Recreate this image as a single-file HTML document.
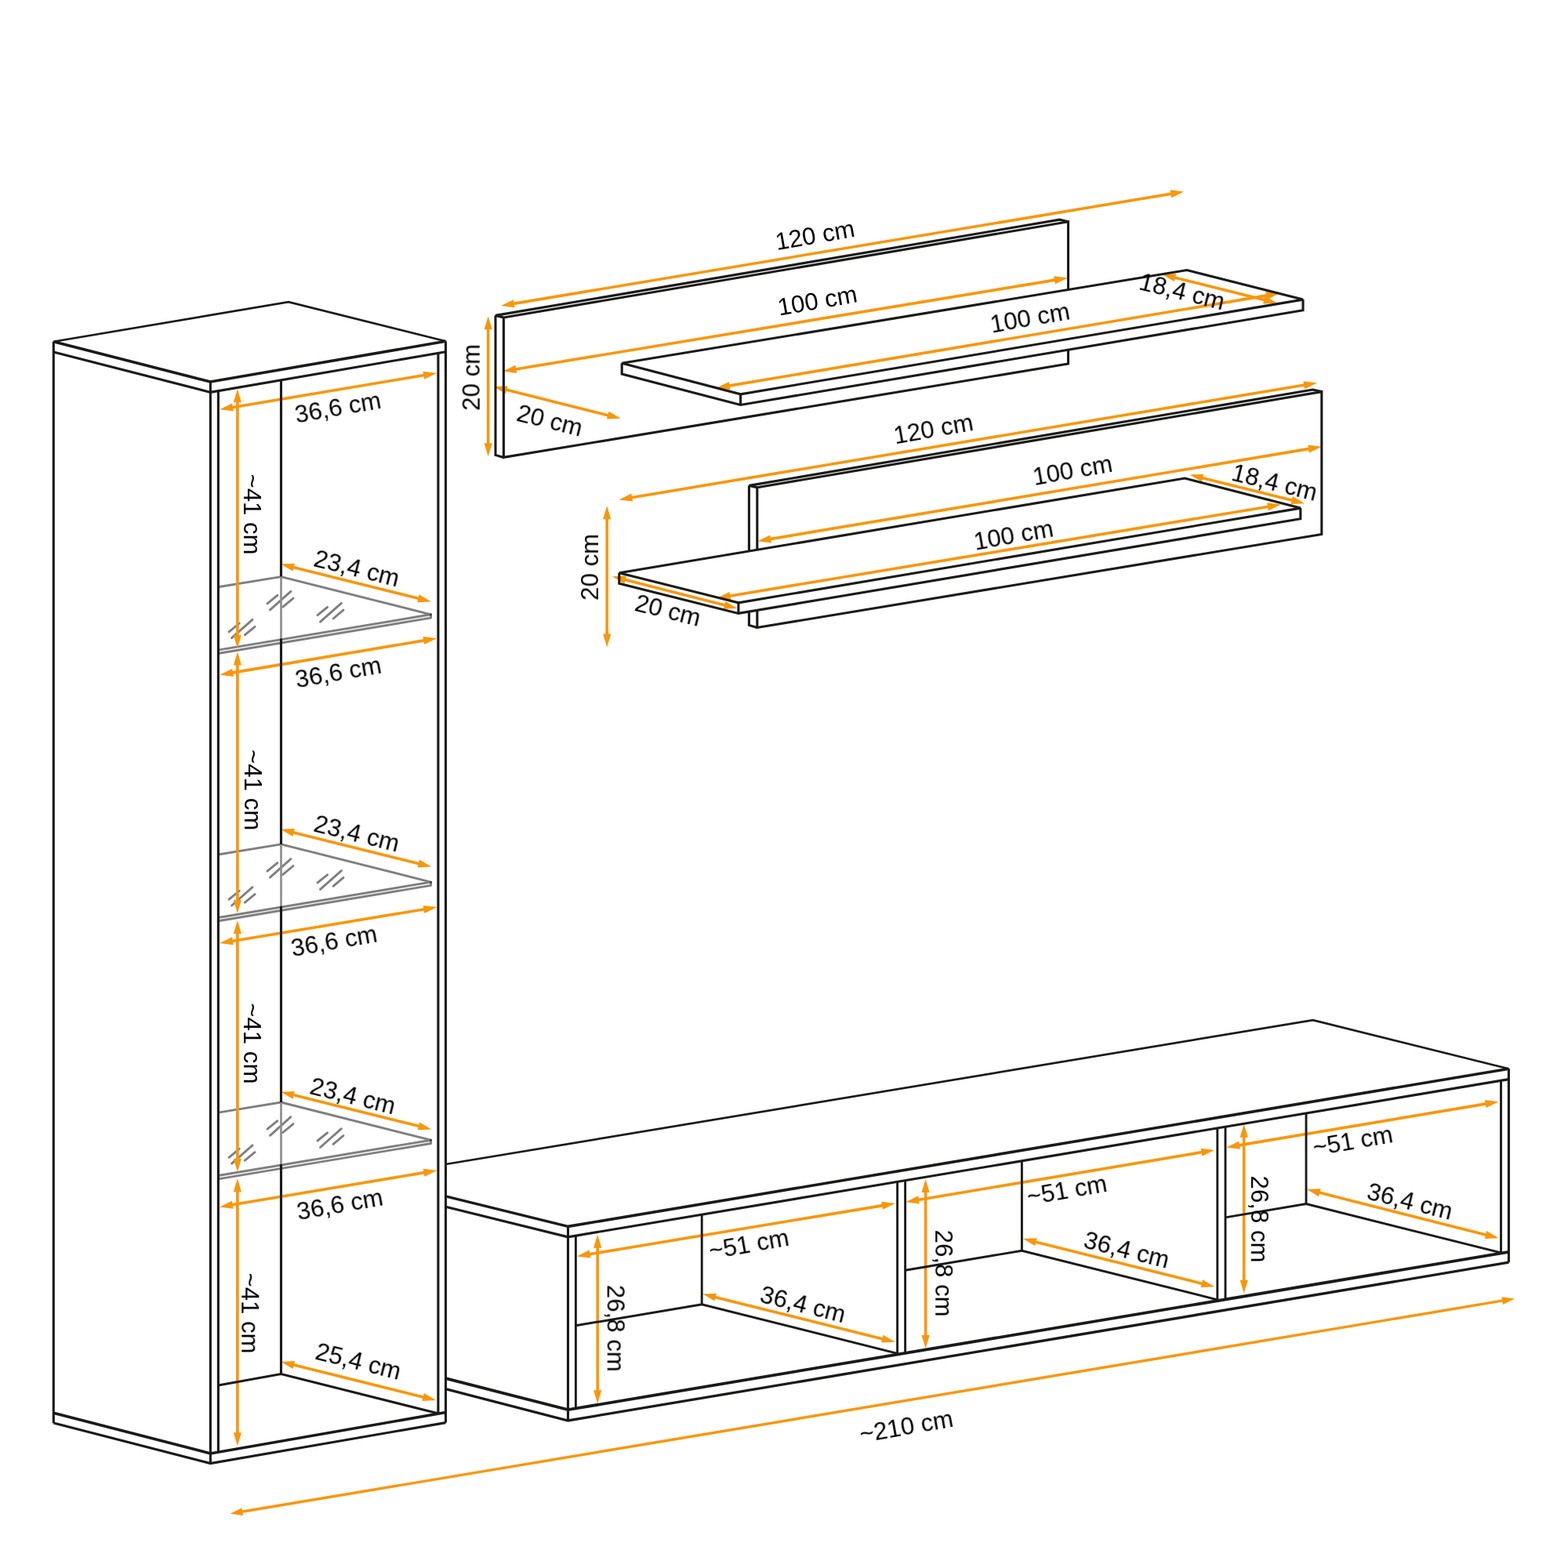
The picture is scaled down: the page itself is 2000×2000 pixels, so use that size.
<!DOCTYPE html>
<html lang="de">
<head>
<meta charset="utf-8">
<title>Wohnwand Maße</title>
<style>
html,body{margin:0;padding:0;background:#fff;}
body{width:2000px;height:2000px;overflow:hidden;}
svg{display:block;}
svg text{font-family:"Liberation Sans",sans-serif;fill:#000;}
</style>
</head>
<body>
<svg width="2000" height="2000" viewBox="0 0 2000 2000">
<rect width="2000" height="2000" fill="#ffffff"/>
<g id="glass">
<path d="M279.7 748.5 L358.5 735.6 L549.6 783.8 L279.7 828.9" fill="none" stroke="#000" stroke-opacity="0.5" stroke-width="2.9" stroke-linecap="round" stroke-linejoin="round"/>
<path d="M549.6 783.8 L549.6 788.1 L279.7 833.2" fill="none" stroke="#000" stroke-opacity="0.5" stroke-width="2.9" stroke-linecap="round" stroke-linejoin="round"/>
<path d="M405 784.6 L417.6 774.5" fill="none" stroke="#000" stroke-opacity="0.5" stroke-width="2.9" stroke-linecap="round" stroke-linejoin="round"/>
<path d="M408.5 793.1 L435.4 769.3" fill="none" stroke="#000" stroke-opacity="0.5" stroke-width="2.9" stroke-linecap="round" stroke-linejoin="round"/>
<path d="M425.1 789 L438 778.1" fill="none" stroke="#000" stroke-opacity="0.5" stroke-width="2.9" stroke-linecap="round" stroke-linejoin="round"/>
<path d="M341 769.8 L353.9 759.3" fill="none" stroke="#000" stroke-opacity="0.5" stroke-width="2.9" stroke-linecap="round" stroke-linejoin="round"/>
<path d="M344.5 777.9 L370.9 754.3" fill="none" stroke="#000" stroke-opacity="0.5" stroke-width="2.9" stroke-linecap="round" stroke-linejoin="round"/>
<path d="M360.8 774.1 L374 763.2" fill="none" stroke="#000" stroke-opacity="0.5" stroke-width="2.9" stroke-linecap="round" stroke-linejoin="round"/>
<path d="M292.1 805.9 L305.3 795" fill="none" stroke="#000" stroke-opacity="0.5" stroke-width="2.9" stroke-linecap="round" stroke-linejoin="round"/>
<path d="M295.6 813.7 L322 790.4" fill="none" stroke="#000" stroke-opacity="0.5" stroke-width="2.9" stroke-linecap="round" stroke-linejoin="round"/>
<path d="M312.3 809.8 L325.1 799.3" fill="none" stroke="#000" stroke-opacity="0.5" stroke-width="2.9" stroke-linecap="round" stroke-linejoin="round"/>
<path d="M279.7 1089.8 L358.5 1076.9 L549.6 1125.1 L279.7 1170.2" fill="none" stroke="#000" stroke-opacity="0.5" stroke-width="2.9" stroke-linecap="round" stroke-linejoin="round"/>
<path d="M549.6 1125.1 L549.6 1129.4 L279.7 1174.5" fill="none" stroke="#000" stroke-opacity="0.5" stroke-width="2.9" stroke-linecap="round" stroke-linejoin="round"/>
<path d="M405 1125.9 L417.6 1115.8" fill="none" stroke="#000" stroke-opacity="0.5" stroke-width="2.9" stroke-linecap="round" stroke-linejoin="round"/>
<path d="M408.5 1134.4 L435.4 1110.6" fill="none" stroke="#000" stroke-opacity="0.5" stroke-width="2.9" stroke-linecap="round" stroke-linejoin="round"/>
<path d="M425.1 1130.3 L438 1119.4" fill="none" stroke="#000" stroke-opacity="0.5" stroke-width="2.9" stroke-linecap="round" stroke-linejoin="round"/>
<path d="M341 1111.1 L353.9 1100.6" fill="none" stroke="#000" stroke-opacity="0.5" stroke-width="2.9" stroke-linecap="round" stroke-linejoin="round"/>
<path d="M344.5 1119.2 L370.9 1095.6" fill="none" stroke="#000" stroke-opacity="0.5" stroke-width="2.9" stroke-linecap="round" stroke-linejoin="round"/>
<path d="M360.8 1115.4 L374 1104.5" fill="none" stroke="#000" stroke-opacity="0.5" stroke-width="2.9" stroke-linecap="round" stroke-linejoin="round"/>
<path d="M292.1 1147.2 L305.3 1136.3" fill="none" stroke="#000" stroke-opacity="0.5" stroke-width="2.9" stroke-linecap="round" stroke-linejoin="round"/>
<path d="M295.6 1155 L322 1131.7" fill="none" stroke="#000" stroke-opacity="0.5" stroke-width="2.9" stroke-linecap="round" stroke-linejoin="round"/>
<path d="M312.3 1151.1 L325.1 1140.6" fill="none" stroke="#000" stroke-opacity="0.5" stroke-width="2.9" stroke-linecap="round" stroke-linejoin="round"/>
<path d="M279.7 1418.9 L358.5 1406 L549.6 1454.2 L279.7 1499.3" fill="none" stroke="#000" stroke-opacity="0.5" stroke-width="2.9" stroke-linecap="round" stroke-linejoin="round"/>
<path d="M549.6 1454.2 L549.6 1458.5 L279.7 1503.6" fill="none" stroke="#000" stroke-opacity="0.5" stroke-width="2.9" stroke-linecap="round" stroke-linejoin="round"/>
<path d="M405 1455 L417.6 1444.9" fill="none" stroke="#000" stroke-opacity="0.5" stroke-width="2.9" stroke-linecap="round" stroke-linejoin="round"/>
<path d="M408.5 1463.5 L435.4 1439.7" fill="none" stroke="#000" stroke-opacity="0.5" stroke-width="2.9" stroke-linecap="round" stroke-linejoin="round"/>
<path d="M425.1 1459.4 L438 1448.5" fill="none" stroke="#000" stroke-opacity="0.5" stroke-width="2.9" stroke-linecap="round" stroke-linejoin="round"/>
<path d="M341 1440.2 L353.9 1429.7" fill="none" stroke="#000" stroke-opacity="0.5" stroke-width="2.9" stroke-linecap="round" stroke-linejoin="round"/>
<path d="M344.5 1448.3 L370.9 1424.7" fill="none" stroke="#000" stroke-opacity="0.5" stroke-width="2.9" stroke-linecap="round" stroke-linejoin="round"/>
<path d="M360.8 1444.5 L374 1433.6" fill="none" stroke="#000" stroke-opacity="0.5" stroke-width="2.9" stroke-linecap="round" stroke-linejoin="round"/>
<path d="M292.1 1476.3 L305.3 1465.4" fill="none" stroke="#000" stroke-opacity="0.5" stroke-width="2.9" stroke-linecap="round" stroke-linejoin="round"/>
<path d="M295.6 1484.1 L322 1460.8" fill="none" stroke="#000" stroke-opacity="0.5" stroke-width="2.9" stroke-linecap="round" stroke-linejoin="round"/>
<path d="M312.3 1480.2 L325.1 1469.7" fill="none" stroke="#000" stroke-opacity="0.5" stroke-width="2.9" stroke-linecap="round" stroke-linejoin="round"/>
</g>
<g id="arrows">
<path d="M302.9 512.3 L302.9 811" stroke="#fa9609" stroke-width="3.6" fill="none"/>
<path d="M302.9 496.3 L297.8 513.3 L308 513.3 Z" fill="#fa9609"/>
<path d="M302.9 827 L297.8 810 L308 810 Z" fill="#fa9609"/>
<path d="M302.9 847.6 L302.9 1149" stroke="#fa9609" stroke-width="3.6" fill="none"/>
<path d="M302.9 831.6 L297.8 848.6 L308 848.6 Z" fill="#fa9609"/>
<path d="M302.9 1165 L297.8 1148 L308 1148 Z" fill="#fa9609"/>
<path d="M302.9 1189.9 L302.9 1478.8" stroke="#fa9609" stroke-width="3.6" fill="none"/>
<path d="M302.9 1173.9 L297.8 1190.9 L308 1190.9 Z" fill="#fa9609"/>
<path d="M302.9 1494.8 L297.8 1477.8 L308 1477.8 Z" fill="#fa9609"/>
<path d="M302.9 1519.2 L302.9 1828.2" stroke="#fa9609" stroke-width="3.6" fill="none"/>
<path d="M302.9 1503.2 L297.8 1520.2 L308 1520.2 Z" fill="#fa9609"/>
<path d="M302.9 1844.2 L297.8 1827.2 L308 1827.2 Z" fill="#fa9609"/>
<path d="M296.1 519.7 L541.3 478.5" stroke="#fa9609" stroke-width="3.6" fill="none"/>
<path d="M280.3 522.3 L297.9 524.5 L296.2 514.5 Z" fill="#fa9609"/>
<path d="M557.1 475.9 L541.2 483.7 L539.5 473.7 Z" fill="#fa9609"/>
<path d="M296.1 858.1 L541.3 816.9" stroke="#fa9609" stroke-width="3.6" fill="none"/>
<path d="M280.3 860.8 L297.9 863 L296.2 852.9 Z" fill="#fa9609"/>
<path d="M557.1 814.2 L541.2 822.1 L539.5 812 Z" fill="#fa9609"/>
<path d="M295.9 1200.5 L541.5 1159.7" stroke="#fa9609" stroke-width="3.6" fill="none"/>
<path d="M280.1 1203.1 L297.7 1205.3 L296 1195.3 Z" fill="#fa9609"/>
<path d="M557.3 1157.1 L541.4 1164.9 L539.7 1154.9 Z" fill="#fa9609"/>
<path d="M295.9 1536.8 L541.5 1495.6" stroke="#fa9609" stroke-width="3.6" fill="none"/>
<path d="M280.1 1539.5 L297.7 1541.7 L296 1531.7 Z" fill="#fa9609"/>
<path d="M557.3 1492.9 L541.4 1500.7 L539.7 1490.7 Z" fill="#fa9609"/>
<path d="M373.8 723.4 L534.4 763.5" stroke="#fa9609" stroke-width="3.6" fill="none"/>
<path d="M358.3 719.5 L373.6 728.6 L376 718.7 Z" fill="#fa9609"/>
<path d="M549.9 767.4 L532.2 768.2 L534.6 758.3 Z" fill="#fa9609"/>
<path d="M373.7 1061.7 L534.8 1101.7" stroke="#fa9609" stroke-width="3.6" fill="none"/>
<path d="M358.2 1057.8 L373.5 1066.9 L375.9 1057 Z" fill="#fa9609"/>
<path d="M550.3 1105.6 L532.6 1106.4 L535 1096.5 Z" fill="#fa9609"/>
<path d="M373.7 1396.6 L534.8 1436.6" stroke="#fa9609" stroke-width="3.6" fill="none"/>
<path d="M358.2 1392.8 L373.5 1401.8 L375.9 1391.9 Z" fill="#fa9609"/>
<path d="M550.3 1440.4 L532.6 1441.3 L535 1431.4 Z" fill="#fa9609"/>
<path d="M373.9 1740.8 L540.6 1782.2" stroke="#fa9609" stroke-width="3.6" fill="none"/>
<path d="M358.4 1737 L373.7 1746 L376.1 1736.1 Z" fill="#fa9609"/>
<path d="M556.1 1786 L538.4 1786.9 L540.8 1777 Z" fill="#fa9609"/>
<path d="M751.6 1599.8 L1126 1537.6" stroke="#fa9609" stroke-width="3.6" fill="none"/>
<path d="M735.8 1602.4 L753.4 1604.6 L751.7 1594.6 Z" fill="#fa9609"/>
<path d="M1141.8 1535 L1125.9 1542.8 L1124.2 1532.8 Z" fill="#fa9609"/>
<path d="M1171.1 1530.5 L1533.4 1469.6" stroke="#fa9609" stroke-width="3.6" fill="none"/>
<path d="M1155.3 1533.2 L1172.9 1535.4 L1171.2 1525.3 Z" fill="#fa9609"/>
<path d="M1549.2 1466.9 L1533.3 1474.8 L1531.6 1464.7 Z" fill="#fa9609"/>
<path d="M1580 1460.9 L1895.7 1407.9" stroke="#fa9609" stroke-width="3.6" fill="none"/>
<path d="M1564.2 1463.5 L1581.8 1465.7 L1580.1 1455.7 Z" fill="#fa9609"/>
<path d="M1911.5 1405.3 L1895.6 1413.1 L1893.9 1403.1 Z" fill="#fa9609"/>
<path d="M762.2 1590.7 L762.2 1774.3" stroke="#fa9609" stroke-width="3.6" fill="none"/>
<path d="M762.2 1574.7 L757.1 1591.7 L767.3 1591.7 Z" fill="#fa9609"/>
<path d="M762.2 1790.3 L757.1 1773.3 L767.3 1773.3 Z" fill="#fa9609"/>
<path d="M1180.6 1520 L1180.6 1704" stroke="#fa9609" stroke-width="3.6" fill="none"/>
<path d="M1180.6 1504 L1175.5 1521 L1185.7 1521 Z" fill="#fa9609"/>
<path d="M1180.6 1720 L1175.5 1703 L1185.7 1703 Z" fill="#fa9609"/>
<path d="M1586.7 1449.7 L1586.7 1633.8" stroke="#fa9609" stroke-width="3.6" fill="none"/>
<path d="M1586.7 1433.7 L1581.6 1450.7 L1591.8 1450.7 Z" fill="#fa9609"/>
<path d="M1586.7 1649.8 L1581.6 1632.8 L1591.8 1632.8 Z" fill="#fa9609"/>
<path d="M911.8 1654.4 L1126.3 1707.9" stroke="#fa9609" stroke-width="3.6" fill="none"/>
<path d="M896.3 1650.5 L911.6 1659.6 L914 1649.7 Z" fill="#fa9609"/>
<path d="M1141.8 1711.8 L1124.1 1712.6 L1126.5 1702.7 Z" fill="#fa9609"/>
<path d="M1320.4 1583.9 L1533.7 1637.4" stroke="#fa9609" stroke-width="3.6" fill="none"/>
<path d="M1304.9 1580 L1320.1 1589.1 L1322.6 1579.2 Z" fill="#fa9609"/>
<path d="M1549.2 1641.3 L1531.5 1642.1 L1534 1632.2 Z" fill="#fa9609"/>
<path d="M1682.4 1521 L1896 1575.3" stroke="#fa9609" stroke-width="3.6" fill="none"/>
<path d="M1666.9 1517.1 L1682.1 1526.2 L1684.6 1516.3 Z" fill="#fa9609"/>
<path d="M1911.5 1579.2 L1893.8 1580 L1896.3 1570.1 Z" fill="#fa9609"/>
<path d="M308.3 1928.3 L1917.2 1658.9" stroke="#fa9609" stroke-width="3.4" fill="none"/>
<path d="M293.5 1930.8 L310.1 1933 L308.5 1923.3 Z" fill="#fa9609"/>
<path d="M1932 1656.4 L1917 1663.9 L1915.4 1654.2 Z" fill="#fa9609"/>
<path d="M654.8 387.4 L1494.3 247.1" stroke="#fa9609" stroke-width="3.6" fill="none"/>
<path d="M639 390 L656.6 392.2 L654.9 382.2 Z" fill="#fa9609"/>
<path d="M1510.1 244.5 L1494.2 252.3 L1492.5 242.3 Z" fill="#fa9609"/>
<path d="M657.4 471 L1346.1 357.1" stroke="#fa9609" stroke-width="3.6" fill="none"/>
<path d="M641.6 473.6 L659.2 475.9 L657.5 465.8 Z" fill="#fa9609"/>
<path d="M1361.9 354.5 L1346 362.3 L1344.3 352.2 Z" fill="#fa9609"/>
<path d="M929.7 492.1 L1616.1 376.9" stroke="#fa9609" stroke-width="3.6" fill="none"/>
<path d="M913.9 494.8 L931.5 497 L929.8 487 Z" fill="#fa9609"/>
<path d="M1631.9 374.2 L1616 382 L1614.3 372 Z" fill="#fa9609"/>
<path d="M645.3 497.1 L776.2 529.9" stroke="#fa9609" stroke-width="3.6" fill="none"/>
<path d="M629.8 493.2 L645 502.3 L647.5 492.4 Z" fill="#fa9609"/>
<path d="M791.7 533.8 L774 534.6 L776.5 524.7 Z" fill="#fa9609"/>
<path d="M622.7 419.2 L622.7 566.3" stroke="#fa9609" stroke-width="3.6" fill="none"/>
<path d="M622.7 403.2 L617.6 420.2 L627.8 420.2 Z" fill="#fa9609"/>
<path d="M622.7 582.3 L617.6 565.3 L627.8 565.3 Z" fill="#fa9609"/>
<path d="M1497.9 353.9 L1613.3 382.7" stroke="#fa9609" stroke-width="3.6" fill="none"/>
<path d="M1482.4 350 L1497.7 359.1 L1500.1 349.2 Z" fill="#fa9609"/>
<path d="M1628.8 386.6 L1611.1 387.4 L1613.5 377.5 Z" fill="#fa9609"/>
<path d="M805.2 634.8 L1664.1 491" stroke="#fa9609" stroke-width="3.6" fill="none"/>
<path d="M789.4 637.4 L807 639.6 L805.3 629.6 Z" fill="#fa9609"/>
<path d="M1679.9 488.4 L1664 496.2 L1662.3 486.2 Z" fill="#fa9609"/>
<path d="M982.2 687.6 L1670 572.4" stroke="#fa9609" stroke-width="3.6" fill="none"/>
<path d="M966.4 690.2 L984 692.4 L982.3 682.4 Z" fill="#fa9609"/>
<path d="M1685.8 569.8 L1669.9 577.6 L1668.2 567.6 Z" fill="#fa9609"/>
<path d="M930.4 760.2 L1617.9 646.2" stroke="#fa9609" stroke-width="3.6" fill="none"/>
<path d="M914.6 762.8 L932.2 765.1 L930.5 755 Z" fill="#fa9609"/>
<path d="M1633.7 643.6 L1617.8 651.4 L1616.1 641.3 Z" fill="#fa9609"/>
<path d="M796.6 739.3 L925 772.1" stroke="#fa9609" stroke-width="3.6" fill="none"/>
<path d="M781.1 735.3 L796.3 744.5 L798.8 734.6 Z" fill="#fa9609"/>
<path d="M940.5 776.1 L922.8 776.8 L925.3 766.9 Z" fill="#fa9609"/>
<path d="M774.2 661.2 L774.2 809.4" stroke="#fa9609" stroke-width="3.6" fill="none"/>
<path d="M774.2 645.2 L769.1 662.2 L779.3 662.2 Z" fill="#fa9609"/>
<path d="M774.2 825.4 L769.1 808.4 L779.3 808.4 Z" fill="#fa9609"/>
<path d="M1533 609.4 L1648.7 638.3" stroke="#fa9609" stroke-width="3.6" fill="none"/>
<path d="M1517.5 605.5 L1532.8 614.6 L1535.2 604.7 Z" fill="#fa9609"/>
<path d="M1664.2 642.2 L1646.5 643 L1648.9 633.1 Z" fill="#fa9609"/>
</g>
<g id="cabinet">
<path d="M68.3 435.7 L368 385.2 L568.5 435.3" fill="none" stroke="#1a1a18" stroke-width="2.6" stroke-linejoin="miter" stroke-linecap="butt"/>
<path d="M68.3 435.7 L268.4 487 L568.5 435.3" fill="none" stroke="#1a1a18" stroke-width="3.6" stroke-linejoin="miter" stroke-linecap="butt"/>
<path d="M68.3 449.1 L268.4 500.4 L568.5 448.7" fill="none" stroke="#1a1a18" stroke-width="3.1" stroke-linejoin="miter" stroke-linecap="butt"/>
<path d="M68.3 435.7 L68.3 1815" fill="none" stroke="#1a1a18" stroke-width="3.1" stroke-linejoin="miter" stroke-linecap="butt"/>
<path d="M268.4 487 L268.4 1866.6" fill="none" stroke="#1a1a18" stroke-width="3.1" stroke-linejoin="miter" stroke-linecap="butt"/>
<path d="M568.5 435.3 L568.5 1814.6" fill="none" stroke="#1a1a18" stroke-width="3.1" stroke-linejoin="miter" stroke-linecap="butt"/>
<path d="M68.3 1802.2 L268.4 1853.9 L568.5 1801.6" fill="none" stroke="#1a1a18" stroke-width="3.6" stroke-linejoin="miter" stroke-linecap="butt"/>
<path d="M68.3 1815 L268.4 1866.6 L568.5 1814.6" fill="none" stroke="#1a1a18" stroke-width="3.1" stroke-linejoin="miter" stroke-linecap="butt"/>
<path d="M278.4 498.7 L278.4 1852.2" fill="none" stroke="#1a1a18" stroke-width="3.1" stroke-linejoin="miter" stroke-linecap="butt"/>
<path d="M558.9 450.4 L558.9 1803.3" fill="none" stroke="#1a1a18" stroke-width="3.1" stroke-linejoin="miter" stroke-linecap="butt"/>
<path d="M358.5 484.9 L358.5 735.6" fill="none" stroke="#1a1a18" stroke-width="3.1" stroke-linejoin="miter" stroke-linecap="butt"/>
<path d="M358.5 735.6 L358.5 815.7" fill="none" stroke="#8e8e8e" stroke-width="2.7" stroke-linejoin="miter" stroke-linecap="butt"/>
<path d="M358.5 814.5 L358.5 1076.9" fill="none" stroke="#1a1a18" stroke-width="3.1" stroke-linejoin="miter" stroke-linecap="butt"/>
<path d="M358.5 1076.9 L358.5 1157" fill="none" stroke="#8e8e8e" stroke-width="2.7" stroke-linejoin="miter" stroke-linecap="butt"/>
<path d="M358.5 1155.8 L358.5 1406" fill="none" stroke="#1a1a18" stroke-width="3.1" stroke-linejoin="miter" stroke-linecap="butt"/>
<path d="M358.5 1406 L358.5 1486.1" fill="none" stroke="#8e8e8e" stroke-width="2.7" stroke-linejoin="miter" stroke-linecap="butt"/>
<path d="M358.5 1484.9 L358.5 1752.5" fill="none" stroke="#1a1a18" stroke-width="3.1" stroke-linejoin="miter" stroke-linecap="butt"/>
<path d="M278.4 1767 L358.5 1752.5 L558.4 1802.8" fill="none" stroke="#1a1a18" stroke-width="3.1" stroke-linejoin="miter" stroke-linecap="butt"/>
</g>
<g id="tv">
<path d="M568.5 1485 L1674.7 1301.2 L1924.4 1363.2" fill="none" stroke="#1a1a18" stroke-width="2.7" stroke-linejoin="miter" stroke-linecap="butt"/>
<path d="M1924.4 1363.2 L724.5 1564.4" fill="none" stroke="#1a1a18" stroke-width="3.6" stroke-linejoin="miter" stroke-linecap="butt"/>
<path d="M724.5 1564.4 L568.5 1525.8" fill="none" stroke="#1a1a18" stroke-width="3.4" stroke-linejoin="miter" stroke-linecap="butt"/>
<path d="M568.5 1539.3 L724.5 1577.8 L1924.4 1376.6" fill="none" stroke="#1a1a18" stroke-width="3.1" stroke-linejoin="miter" stroke-linecap="butt"/>
<path d="M568.5 1758.2 L724.5 1798.1 L1924.4 1596.8" fill="none" stroke="#1a1a18" stroke-width="3.8" stroke-linejoin="miter" stroke-linecap="butt"/>
<path d="M568.5 1771.7 L724.5 1812 L1924.4 1610.2" fill="none" stroke="#1a1a18" stroke-width="3.3" stroke-linejoin="miter" stroke-linecap="butt"/>
<path d="M724.5 1564.4 L724.5 1812" fill="none" stroke="#1a1a18" stroke-width="3.1" stroke-linejoin="miter" stroke-linecap="butt"/>
<path d="M1924.4 1363.2 L1924.4 1610.2" fill="none" stroke="#1a1a18" stroke-width="3.1" stroke-linejoin="miter" stroke-linecap="butt"/>
<path d="M734.4 1576.1 L734.4 1796.4" fill="none" stroke="#1a1a18" stroke-width="2.9" stroke-linejoin="miter" stroke-linecap="butt"/>
<path d="M1144.6 1507.4 L1144.6 1727.6" fill="none" stroke="#1a1a18" stroke-width="2.9" stroke-linejoin="miter" stroke-linecap="butt"/>
<path d="M1154.6 1505.7 L1154.6 1725.9" fill="none" stroke="#1a1a18" stroke-width="2.9" stroke-linejoin="miter" stroke-linecap="butt"/>
<path d="M1552.8 1438.9 L1552.8 1659.1" fill="none" stroke="#1a1a18" stroke-width="2.9" stroke-linejoin="miter" stroke-linecap="butt"/>
<path d="M1563 1437.2 L1563 1657.4" fill="none" stroke="#1a1a18" stroke-width="2.9" stroke-linejoin="miter" stroke-linecap="butt"/>
<path d="M1914.5 1378.3 L1914.5 1598.5" fill="none" stroke="#1a1a18" stroke-width="2.9" stroke-linejoin="miter" stroke-linecap="butt"/>
<path d="M895.2 1549.2 L895.2 1663.8" fill="none" stroke="#1a1a18" stroke-width="2.9" stroke-linejoin="miter" stroke-linecap="butt"/>
<path d="M734.4 1690.8 L895.2 1663.8 L1144.6 1726.3" fill="none" stroke="#1a1a18" stroke-width="2.9" stroke-linejoin="miter" stroke-linecap="butt"/>
<path d="M1303.4 1480.7 L1303.4 1595.3" fill="none" stroke="#1a1a18" stroke-width="2.9" stroke-linejoin="miter" stroke-linecap="butt"/>
<path d="M1154.6 1620.2 L1303.4 1595.3 L1552.8 1657.8" fill="none" stroke="#1a1a18" stroke-width="2.9" stroke-linejoin="miter" stroke-linecap="butt"/>
<path d="M1666 1419.9 L1666 1535.6" fill="none" stroke="#1a1a18" stroke-width="2.9" stroke-linejoin="miter" stroke-linecap="butt"/>
<path d="M1563 1552.9 L1666 1535.6 L1914.5 1597.9" fill="none" stroke="#1a1a18" stroke-width="2.9" stroke-linejoin="miter" stroke-linecap="butt"/>
</g>
<g id="shelf1">
<path d="M1362.5 369.5 L1362.5 282.8 L642.4 405 L642.4 583.4 L1362.5 464 L1362.5 446.2" fill="none" stroke="#1a1a18" stroke-width="3.1" stroke-linejoin="miter" stroke-linecap="butt"/>
<path d="M642.4 405 L632 402.4 L1351.5 280.2 L1362.5 282.8" fill="none" stroke="#1a1a18" stroke-width="3.1" stroke-linejoin="miter" stroke-linecap="butt"/>
<path d="M632 402.4 L632 580.4 L642.4 583.4" fill="none" stroke="#1a1a18" stroke-width="3.1" stroke-linejoin="miter" stroke-linecap="butt"/>
<path d="M793.2 463.3 L1513.9 344.5 L1662 382.1 L944.6 502.8 Z" fill="none" stroke="#1a1a18" stroke-width="3.1" stroke-linejoin="miter" stroke-linecap="butt"/>
<path d="M793.2 463.3 L793.2 477 L944.6 516.5 L1662 395.8 L1662 382.1" fill="none" stroke="#1a1a18" stroke-width="3.1" stroke-linejoin="miter" stroke-linecap="butt"/>
<path d="M944.6 502.8 L944.6 516.5" fill="none" stroke="#1a1a18" stroke-width="3.1" stroke-linejoin="miter" stroke-linecap="butt"/>
</g>
<g id="shelf2">
<path d="M965.8 701.3 L965.8 621.8 L1685.8 499.6 L1685.8 681.5 L965.8 800.5 L965.8 778.4" fill="none" stroke="#1a1a18" stroke-width="3.1" stroke-linejoin="miter" stroke-linecap="butt"/>
<path d="M965.8 621.8 L955.4 619.4 L1674.3 497 L1685.8 499.6" fill="none" stroke="#1a1a18" stroke-width="3.1" stroke-linejoin="miter" stroke-linecap="butt"/>
<path d="M955.4 619.4 L955.4 703" fill="none" stroke="#1a1a18" stroke-width="3.1" stroke-linejoin="miter" stroke-linecap="butt"/>
<path d="M955.4 780.1 L955.4 797.4 L965.8 800.5" fill="none" stroke="#1a1a18" stroke-width="3.1" stroke-linejoin="miter" stroke-linecap="butt"/>
<path d="M789.8 730.7 L1511.3 610 L1658.8 648.1 L941.9 768.8 Z" fill="none" stroke="#1a1a18" stroke-width="3.1" stroke-linejoin="miter" stroke-linecap="butt"/>
<path d="M789.8 730.7 L789.8 744.3 L941.9 782.4 L1658.8 661.7 L1658.8 648.1" fill="none" stroke="#1a1a18" stroke-width="3.1" stroke-linejoin="miter" stroke-linecap="butt"/>
<path d="M941.9 768.8 L941.9 782.4" fill="none" stroke="#1a1a18" stroke-width="3.1" stroke-linejoin="miter" stroke-linecap="butt"/>
</g>
<g id="labels" style="will-change:transform">
<text transform="translate(432.8 530.1) rotate(-10)" text-anchor="middle" font-size="31.2">36,6 cm</text>
<text transform="translate(433.3 867.9) rotate(-10)" text-anchor="middle" font-size="31.2">36,6 cm</text>
<text transform="translate(427.9 1210.7) rotate(-10)" text-anchor="middle" font-size="31.2">36,6 cm</text>
<text transform="translate(435.3 1546.7) rotate(-10)" text-anchor="middle" font-size="31.2">36,6 cm</text>
<text transform="translate(452.5 735.2) rotate(14)" text-anchor="middle" font-size="31.2">23,4 cm</text>
<text transform="translate(452.5 1073.4) rotate(14)" text-anchor="middle" font-size="31.2">23,4 cm</text>
<text transform="translate(447.5 1408.2) rotate(14)" text-anchor="middle" font-size="31.2">23,4 cm</text>
<text transform="translate(454.5 1746.6) rotate(14)" text-anchor="middle" font-size="31.2">25,4 cm</text>
<text transform="translate(310.5 656) rotate(90)" text-anchor="middle" font-size="31.2">~41 cm</text>
<text transform="translate(312.4 1007.7) rotate(90)" text-anchor="middle" font-size="31.2">~41 cm</text>
<text transform="translate(310.5 1330.8) rotate(90)" text-anchor="middle" font-size="31.2">~41 cm</text>
<text transform="translate(308.3 1675) rotate(90)" text-anchor="middle" font-size="31.2">~41 cm</text>
<text transform="translate(957.1 1597.4) rotate(-10)" text-anchor="middle" font-size="31.2">~51 cm</text>
<text transform="translate(1362.7 1528.4) rotate(-10)" text-anchor="middle" font-size="31.2">~51 cm</text>
<text transform="translate(1727.3 1465.7) rotate(-10)" text-anchor="middle" font-size="31.2">~51 cm</text>
<text transform="translate(1021.6 1674) rotate(14)" text-anchor="middle" font-size="31.2">36,4 cm</text>
<text transform="translate(1434.5 1604.5) rotate(14)" text-anchor="middle" font-size="31.2">36,4 cm</text>
<text transform="translate(1795.8 1542.6) rotate(14)" text-anchor="middle" font-size="31.2">36,4 cm</text>
<text transform="translate(774.7 1694.3) rotate(90)" text-anchor="middle" font-size="31.2">26,8 cm</text>
<text transform="translate(1193.2 1624.1) rotate(90)" text-anchor="middle" font-size="31.2">26,8 cm</text>
<text transform="translate(1595.9 1555) rotate(90)" text-anchor="middle" font-size="31.2">26,8 cm</text>
<text transform="translate(1157.9 1829.9) rotate(-10)" text-anchor="middle" font-size="31.2">~210 cm</text>
<text transform="translate(1041.3 310.3) rotate(-10)" text-anchor="middle" font-size="31.2">120 cm</text>
<text transform="translate(1044.4 393.8) rotate(-10)" text-anchor="middle" font-size="31.2">100 cm</text>
<text transform="translate(1315.6 415.8) rotate(-10)" text-anchor="middle" font-size="31.2">100 cm</text>
<text transform="translate(1505.2 382.2) rotate(14)" text-anchor="middle" font-size="31.2">18,4 cm</text>
<text transform="translate(698.7 546.6) rotate(14)" text-anchor="middle" font-size="31.2">20 cm</text>
<text transform="translate(611.7 481.4) rotate(-90)" text-anchor="middle" font-size="31.2">20 cm</text>
<text transform="translate(1192.4 557.5) rotate(-10)" text-anchor="middle" font-size="31.2">120 cm</text>
<text transform="translate(1369.9 610.2) rotate(-10)" text-anchor="middle" font-size="31.2">100 cm</text>
<text transform="translate(1294.6 692.9) rotate(-10)" text-anchor="middle" font-size="31.2">100 cm</text>
<text transform="translate(1623.2 625.6) rotate(14)" text-anchor="middle" font-size="31.2">18,4 cm</text>
<text transform="translate(849.4 788.8) rotate(14)" text-anchor="middle" font-size="31.2">20 cm</text>
<text transform="translate(763 723.4) rotate(-90)" text-anchor="middle" font-size="31.2">20 cm</text>
</g>
</svg>
</body>
</html>
